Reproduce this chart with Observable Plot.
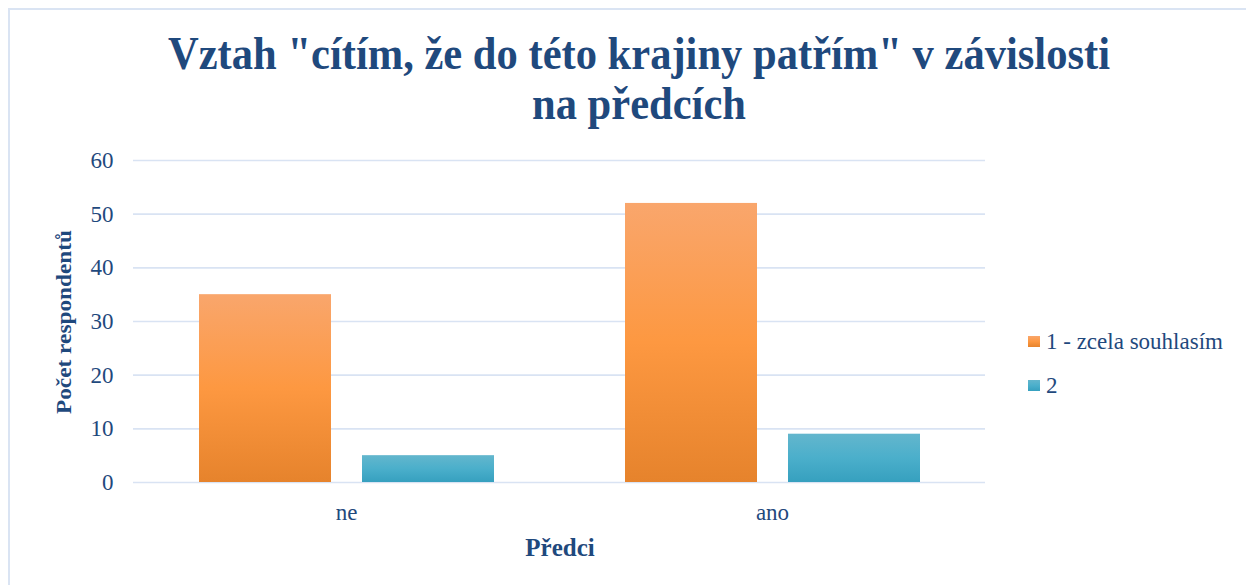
<!DOCTYPE html>
<html>
<head>
<meta charset="utf-8">
<script src="https://cdn.jsdelivr.net/npm/d3@7"></script>
<script src="https://cdn.jsdelivr.net/npm/@observablehq/plot@0.6"></script>
<style>
  html, body { margin: 0; padding: 0; background: #fff; }
  #wrap { position: relative; width: 1246px; height: 585px; overflow: hidden; font-family: 'Liberation Serif', 'Times New Roman', serif; color: #1F497D; }
  #frame { position: absolute; left: 8px; top: 8px; width: 1400px; height: 800px; border: 2px solid #DAE4F3; box-sizing: border-box; }
  .t { position: absolute; white-space: nowrap; line-height: 1; font-family: 'Liberation Serif', 'Times New Roman', serif; }
  #chart { position: absolute; left: 0; top: 140px; }
  .sw { position: absolute; width: 12px; height: 11px; }
</style>
</head>
<body>
<div id="wrap">
  <div id="frame"></div>
  <div id="chart"></div>
</div>
<script>
// ---- data ----
const chartTitle = ["Vztah \"cítím, že do této krajiny patřím\" v závislosti", "na předcích"];
const categories = ["ne", "ano"];
const seriesNames = ["1 - zcela souhlasím", "2"];
const series1Values = [35, 52];
const series2Values = [5, 9];
const yTicks = [0, 10, 20, 30, 40, 50, 60];
const xAxisTitle = "Předci";
const yAxisTitle = "Počet respondentů";

const rows = [];
categories.forEach((c, i) => {
  rows.push({category: c, series: seriesNames[0], value: series1Values[i]});
  rows.push({category: c, series: seriesNames[1], value: series2Values[i]});
});

const textColor = "#1F497D";
const wrap = document.getElementById("wrap");

// helper: HTML text placed by baseline
function placeText(txt, x, baseline, size, opts = {}) {
  const d = document.createElement("div");
  d.className = "t";
  d.textContent = txt;
  d.style.fontSize = size + "px";
  d.style.fontWeight = opts.bold ? "bold" : "normal";
  d.style.top = (baseline - 0.8375 * size) + "px";
  d.style.left = x + "px";
  const anchor = opts.anchor || "start";
  const tx = anchor === "middle" ? "-50%" : anchor === "end" ? "-100%" : "0";
  d.style.transform = `translateX(${tx})`;
  wrap.appendChild(d);
  return d;
}

// title (fit first line to reference width)
const t1 = placeText(chartTitle[0], 639, 70, 46, {bold: true, anchor: "middle"});
const t2 = placeText(chartTitle[1], 639, 120, 46, {bold: true, anchor: "middle"});
const w1 = t1.getBoundingClientRect().width;
const sx = 942 / w1;
[t1, t2].forEach(t => {
  t.style.transformOrigin = "50% 0";
  t.style.transform = `translateX(-50%) scaleX(${sx})`;
});

// x axis title
placeText(xAxisTitle, 560, 556, 25, {bold: true, anchor: "middle"});

// y axis title (rotated)
const yl = document.createElement("div");
yl.className = "t";
yl.textContent = yAxisTitle;
yl.style.fontSize = "21px";
yl.style.fontWeight = "bold";
yl.style.left = "64px";
yl.style.top = "322px";
yl.style.transform = "translate(-50%,-50%) rotate(-90deg) scaleX(1.11)";
wrap.appendChild(yl);

// legend
const gradCss = [
  "linear-gradient(#F9A66C, #FD9841 50%, #E6832C)",
  "linear-gradient(#63B6CD, #4BAFCB 50%, #36A0BF)"
];
const legendBaselines = [349, 393];
seriesNames.forEach((s, i) => {
  const sw = document.createElement("div");
  sw.className = "sw";
  sw.style.left = "1028px";
  sw.style.top = (legendBaselines[i] - 13) + "px";
  sw.style.background = gradCss[i];
  wrap.appendChild(sw);
  placeText(s, 1046, legendBaselines[i], 23);
});

// chart
const plot = Plot.plot({
  width: 1246,
  height: 420,
  marginLeft: 133,
  marginRight: 261,
  marginTop: 20,
  marginBottom: 78,
  style: {color: textColor, fontFamily: "'Liberation Serif', 'Times New Roman', serif", background: "transparent", overflow: "visible"},
  y: {domain: [0, 60], ticks: yTicks, axis: null},
  fx: {domain: categories, padding: 0, axis: null},
  x: {domain: seriesNames, paddingInner: 0.193, paddingOuter: 0.399, axis: null},
  color: {domain: seriesNames, range: ["url(#gOrange)", "url(#gTeal)"]},
  marks: [
    Plot.ruleY(yTicks, {stroke: "#D9E3F3", strokeWidth: 1.6}),
    Plot.barY(rows, {fx: "category", x: "series", y: "value", fill: "series"}),
    Plot.axisY({ticks: yTicks, tickSize: 0, tickPadding: 20, fontSize: 23, label: null}),
    Plot.axisFx({anchor: "bottom", tickSize: 0, tickPadding: 21, fontSize: 23, label: null})
  ]
});

const svg = d3.select(plot);
const defs = svg.insert("defs", ":first-child");
const grads = [
  {id: "gOrange", stops: [["0%", "#F9A66C"], ["50%", "#FD9841"], ["100%", "#E6832C"]]},
  {id: "gTeal", stops: [["0%", "#63B6CD"], ["50%", "#4BAFCB"], ["100%", "#36A0BF"]]}
];
grads.forEach(g => {
  const lg = defs.append("linearGradient").attr("id", g.id).attr("x1", 0).attr("y1", 0).attr("x2", 0).attr("y2", 1);
  g.stops.forEach(([o, c]) => lg.append("stop").attr("offset", o).attr("stop-color", c));
});

document.getElementById("chart").appendChild(plot);
</script>
</body>
</html>
